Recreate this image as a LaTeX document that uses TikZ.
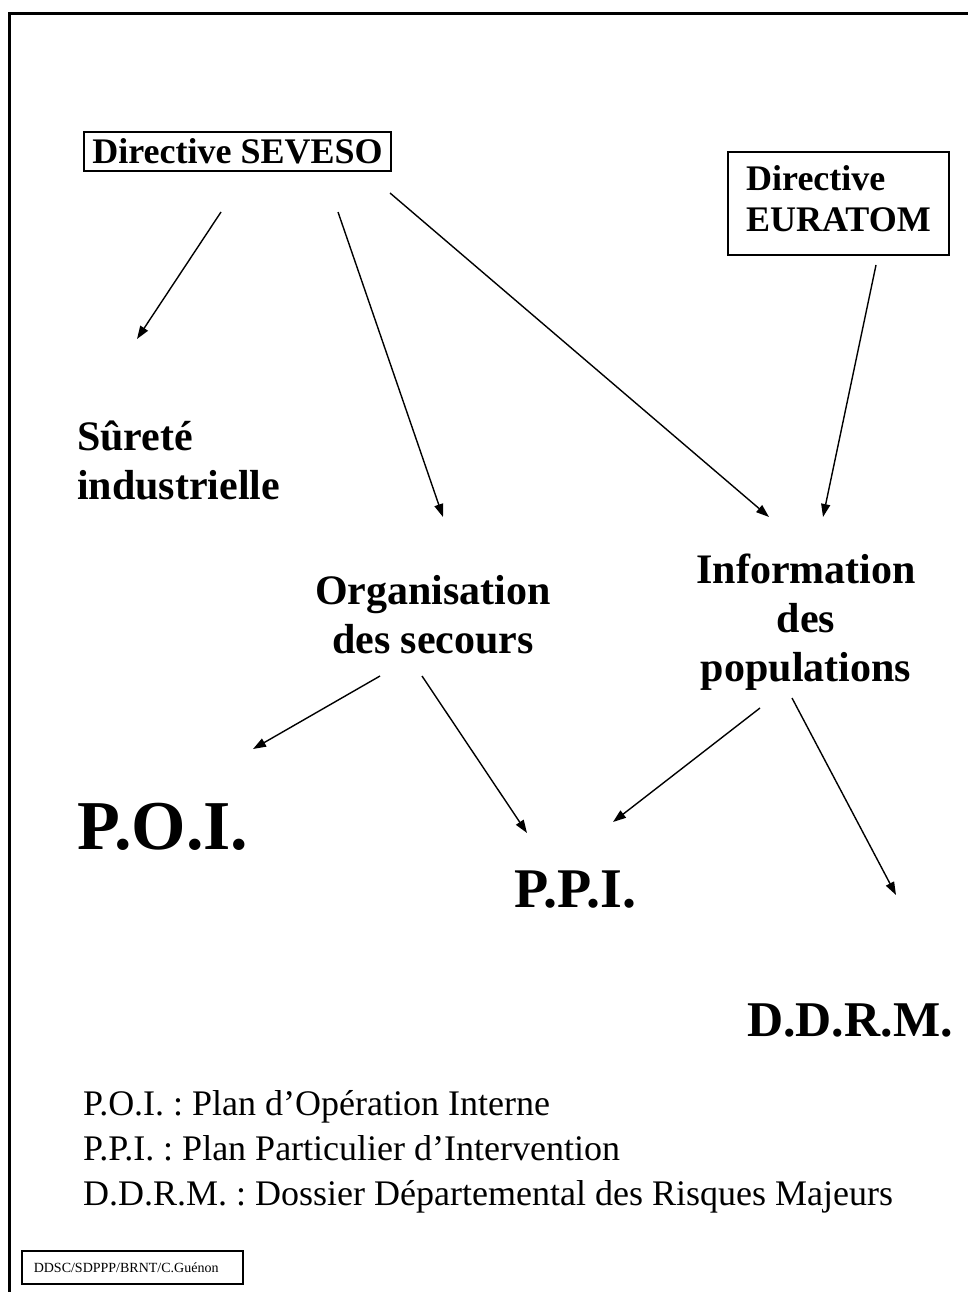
\documentclass[tikz,border=0pt]{standalone}
\usepackage{fontspec}
\setmainfont{Liberation Serif}
\usetikzlibrary{arrows.meta}
\frenchspacing
\begin{document}
\begin{tikzpicture}[x=1pt,y=-1pt,
  arr/.style={-{Triangle[length=13pt,width=9pt]}, line width=1.4pt},
  boxed/.style={draw, line width=1.6pt, inner sep=0pt},
  midtxt/.style={font=\bfseries\fontsize{36}{41}\selectfont},
  bigtxt/.style={font=\bfseries\fontsize{42}{49}\selectfont, align=center, inner sep=0pt},
  hugetxt/.style={font=\bfseries\fontsize{56}{66}\selectfont, inner sep=0pt},
  legend/.style={font=\fontsize{36}{45}\selectfont, anchor=base west, inner sep=0pt}]
\useasboundingbox (0,0) rectangle (968,1292);
% frame (top and left edges only)
\draw[line width=3pt] (9.5,1292) -- (9.5,13.5) -- (968,13.5);

% nodes
\node[boxed, midtxt, minimum width=307pt, minimum height=39pt] (sev) at (237.5,151.5) {Directive SEVESO};
\node[boxed, midtxt, align=left, minimum width=221pt, minimum height=103pt, text depth=10pt] (eur) at (838.5,203.5) {Directive\\EURATOM};
\node[bigtxt, align=left, anchor=west] (sur) at (77,460) {Sûreté\\industrielle};
\node[bigtxt] (org) at (433,615) {Organisation\\des secours};
\node[bigtxt] (inf) at (806,622) {Information\\des\\populations};
\node[hugetxt, font=\bfseries\fontsize{70}{80}\selectfont] (poi) at (163,827) {P.O.I.};
\node[hugetxt] (ppi) at (575,890) {P.P.I.};
\node[hugetxt, font=\bfseries\fontsize{50}{60}\selectfont] (ddrm) at (850,1020) {D.D.R.M.};

% legend
\node[legend] (l1) at (83,1115) {P.O.I. : Plan d’Opération Interne};
\node[legend] (l2) at (83,1160) {P.P.I. : Plan Particulier d’Intervention};
\node[legend] (l3) at (83,1205) {D.D.R.M. : Dossier Départemental des Risques Majeurs};

% signature box
\node[draw, line width=1.5pt, anchor=west, inner xsep=12pt, inner ysep=0pt, text width=197pt, align=left,
      minimum height=33pt, font=\fontsize{14}{16}\selectfont] (sig) at (21,1267.5) {DDSC/SDPPP/BRNT/C.Guénon};

% connector end points
\coordinate (a1s) at (221,212); \coordinate (a1e) at (137,339);
\coordinate (a2s) at (338,212); \coordinate (a2e) at (443,517);
\coordinate (a3s) at (390,193); \coordinate (a3e) at (769,517);
\coordinate (a4s) at (876,265); \coordinate (a4e) at (823,517);
\coordinate (a5s) at (380,676); \coordinate (a5e) at (253,749);
\coordinate (a6s) at (422,676); \coordinate (a6e) at (527,833);
\coordinate (a7s) at (760,708); \coordinate (a7e) at (613,822);
\coordinate (a8s) at (792,698); \coordinate (a8e) at (896,895);

\draw[arr] (a1s) -- (a1e);
\draw[arr] (a2s) -- (a2e);
\draw[arr] (a3s) -- (a3e);
\draw[arr] (a4s) -- (a4e);
\draw[arr] (a5s) -- (a5e);
\draw[arr] (a6s) -- (a6e);
\draw[arr] (a7s) -- (a7e);
\draw[arr] (a8s) -- (a8e);
\end{tikzpicture}
\end{document}
